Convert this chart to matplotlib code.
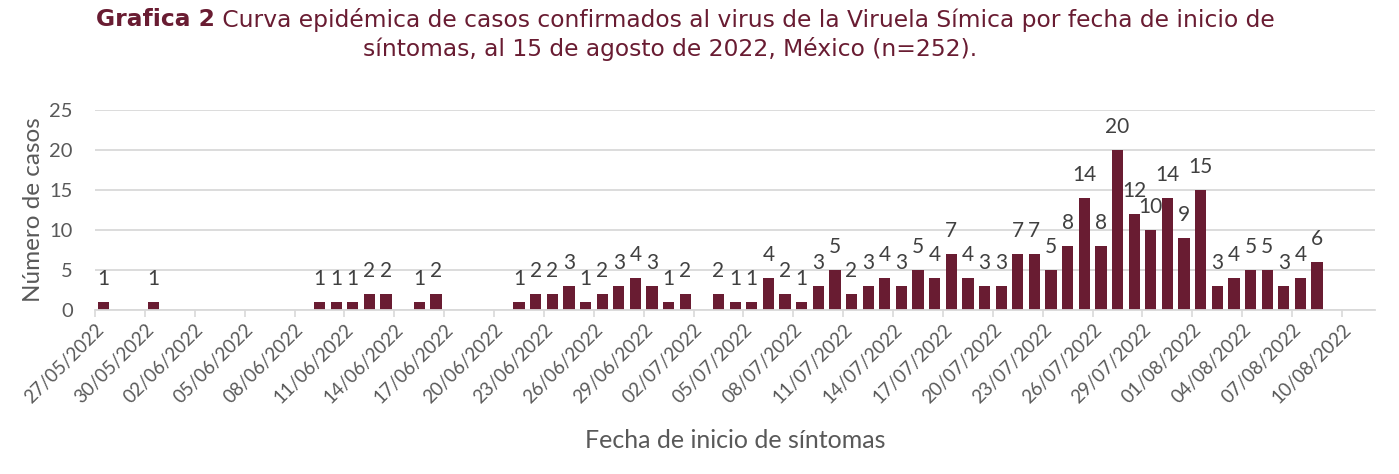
import matplotlib
matplotlib.use("Agg")
import matplotlib.pyplot as plt
import matplotlib.dates as mdates
from datetime import datetime, timedelta

# casos por fecha de inicio de síntomas
fechas = ["27/05/2022", "30/05/2022",
          "09/06/2022", "10/06/2022", "11/06/2022", "12/06/2022", "13/06/2022",
          "15/06/2022", "16/06/2022",
          "21/06/2022", "22/06/2022", "23/06/2022", "24/06/2022", "25/06/2022",
          "26/06/2022", "27/06/2022", "28/06/2022", "29/06/2022", "30/06/2022",
          "01/07/2022",
          "03/07/2022", "04/07/2022", "05/07/2022", "06/07/2022", "07/07/2022",
          "08/07/2022", "09/07/2022", "10/07/2022", "11/07/2022", "12/07/2022",
          "13/07/2022", "14/07/2022", "15/07/2022", "16/07/2022", "17/07/2022",
          "18/07/2022", "19/07/2022", "20/07/2022", "21/07/2022", "22/07/2022",
          "23/07/2022", "24/07/2022", "25/07/2022", "26/07/2022", "27/07/2022",
          "28/07/2022", "29/07/2022", "30/07/2022", "31/07/2022", "01/08/2022",
          "02/08/2022", "03/08/2022", "04/08/2022", "05/08/2022", "06/08/2022",
          "07/08/2022", "08/08/2022"]
casos = [1, 1,
         1, 1, 1, 2, 2,
         1, 2,
         1, 2, 2, 3, 1,
         2, 3, 4, 3, 1,
         2,
         2, 1, 1, 4, 2,
         1, 3, 5, 2, 3,
         4, 3, 5, 4, 7,
         4, 3, 3, 7, 7,
         5, 8, 14, 8, 20,
         12, 10, 14, 9, 15,
         3, 4, 5, 5, 3,
         4, 6]

inicio = "27/05/2022"
fin = "10/08/2022"

titulo_neg = "Grafica 2"
titulo_1 = " Curva epidémica de casos confirmados al virus de la Viruela Símica por fecha de inicio de"
titulo_2 = "síntomas, al 15 de agosto de 2022, México (n=252)."

guinda = "#691c32"
gris = "#595959"
gris_linea = "#d9d9d9"

plt.rcParams['font.family'] = ['Lato', 'DejaVu Sans']

fig = plt.figure(figsize=(13.99, 4.74), dpi=100)
ax = fig.add_axes([0.068, 0.346, 0.915, 0.422])

dias = [datetime.strptime(f, "%d/%m/%Y") for f in fechas]
x = [mdates.date2num(d) + 0.5 for d in dias]
ax.bar(x, casos, width=0.68, color=guinda, zorder=3)

for xi, c in zip(x, casos):
    ax.annotate(str(c), (xi, c), xytext=(0, 12), textcoords="offset points",
                ha="center", va="baseline", fontsize=15, color="#404040")

d0 = datetime.strptime(inicio, "%d/%m/%Y")
d1 = datetime.strptime(fin, "%d/%m/%Y")
ticks = []
d = d0
while d <= d1:
    ticks.append(mdates.date2num(d))
    d += timedelta(days=3)
ax.set_xticks(ticks)
ax.xaxis.set_major_formatter(mdates.DateFormatter("%d/%m/%Y"))
ax.set_xlim(mdates.date2num(d0), mdates.date2num(d0) + 77)
ax.set_ylim(0, 25)
ax.set_yticks([0, 5, 10, 15, 20, 25])

for lbl in ax.get_xticklabels():
    lbl.set_rotation(45)
    lbl.set_ha("right")
    lbl.set_rotation_mode("anchor")

ax.tick_params(axis="x", colors=gris_linea, labelcolor=gris, labelsize=13.5,
               length=5, width=1.2, pad=3)
ax.tick_params(axis="y", length=0, labelcolor=gris, labelsize=14.5, pad=16)

ax.grid(axis="y", color=gris_linea, linewidth=1.3, zorder=0)
for s in ["top", "right", "left"]:
    ax.spines[s].set_visible(False)
ax.spines["bottom"].set_color(gris_linea)
ax.spines["bottom"].set_linewidth(1.3)
ax.spines["bottom"].set_zorder(4)

ax.set_xlabel("Fecha de inicio de síntomas", fontsize=18, color=gris, labelpad=16)
ax.set_ylabel("Número de casos", fontsize=17.5, color=gris, labelpad=4)

# titulo en dos partes (negrita + normal), centrado a mano
fam_t = ["DejaVu Sans"]
r = fig.canvas.get_renderer()
t1 = fig.text(0, 0, titulo_neg, fontsize=16.8, fontweight="bold", color=guinda,
              va="center", family=fam_t)
t2 = fig.text(0, 0, titulo_1, fontsize=16.8, color=guinda, va="center",
              family=fam_t)
w1 = t1.get_window_extent(r).width
w2 = t2.get_window_extent(r).width
W = fig.bbox.width
x_ini = (685 - (w1 + w2) / 2) / W
y1 = 1 - 20 / 474
t1.set_position((x_ini, y1))
t2.set_position((x_ini + w1 / W, y1))
fig.text(670 / W, 1 - 49 / 474, titulo_2, fontsize=16.8, color=guinda,
         ha="center", va="center", family=fam_t)

fig.savefig("out.png", dpi=100)
